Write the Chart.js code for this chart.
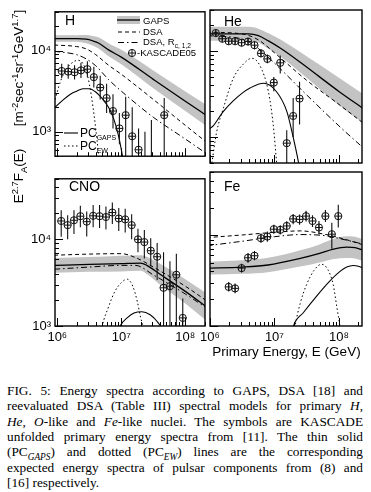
<!DOCTYPE html>
<html><head><meta charset="utf-8">
<script src="https://cdn.jsdelivr.net/npm/chart.js@4.4.1/dist/chart.umd.min.js"></script>
<style>
html,body{margin:0;padding:0;background:#fff}
body{width:371px;height:492px;position:relative;overflow:hidden;font-family:"Liberation Sans","DejaVu Sans",Arial,sans-serif;color:#000}
canvas{position:absolute}
.t{position:absolute;white-space:nowrap;line-height:1}
.lg{font-size:9.5px}
.pl{font-size:14px}
.rot{position:absolute;white-space:nowrap;font-size:13.5px;line-height:1;transform:translate(-50%,-50%) rotate(-90deg)}
sup,sub{font-size:70%;line-height:0}
.cap{position:absolute;left:7px;top:383px;width:356px;font-family:"Liberation Serif","DejaVu Serif",serif;font-size:13.3px;line-height:15.35px}
.cap div{text-align:justify;text-align-last:justify}
.cap div.last{text-align:left;text-align-last:left}
</style>
</head><body>
<canvas id="cH" width="210" height="168" style="left:0;top:0"></canvas>
<canvas id="cHe" width="182" height="168" style="left:189px;top:0"></canvas>
<canvas id="cCNO" width="210" height="193" style="left:0;top:167px"></canvas>
<canvas id="cFe" width="182" height="193" style="left:189px;top:167px"></canvas>

<div class="t pl" style="left:65px;top:13px">H</div>
<div class="t pl" style="left:224px;top:14px">He</div>
<div class="t pl" style="left:69px;top:179px">CNO</div>
<div class="t pl" style="left:224px;top:179px">Fe</div>

<div class="t lg" style="left:143px;top:15.5px">GAPS</div>
<div class="t lg" style="left:143px;top:27px">DSA</div>
<div class="t lg" style="left:143px;top:37px">DSA, R<sub>c, 1,2</sub></div>
<div class="t lg" style="left:137px;top:48px">-KASCADE05</div>
<div class="t" style="left:80px;top:127px;font-size:12px">PC<sub style="font-size:7px">GAPS</sub></div>
<div class="t" style="left:80px;top:140px;font-size:12px">PC<sub style="font-size:7px">EW</sub></div>

<div class="rot" style="left:19px;top:68px">[m<sup>-2</sup>sec<sup>-1</sup>sr<sup>-1</sup>GeV<sup>1.7</sup>]</div>
<div class="rot" style="left:19px;top:176px">E<sup>2.7</sup>F<sub>A</sub>(E)</div>
<div class="t" style="left:210px;top:345px;width:153px;text-align:center;font-size:13.5px">Primary Energy, E (GeV)</div>

<div class="cap">
<div>FIG. 5: Energy spectra according to GAPS, DSA [18] and</div>
<div>reevaluated DSA (Table III) spectral models for primary <i>H</i>,</div>
<div><i>He</i>, <i>O</i>-like and <i>Fe</i>-like nuclei. The symbols are KASCADE</div>
<div>unfolded primary energy spectra from [11]. The thin solid</div>
<div>(PC<sub><i>GAPS</i></sub>) and dotted (PC<sub><i>EW</i></sub>) lines are the corresponding</div>
<div>expected energy spectra of pulsar components from (8) and</div>
<div class="last">[16] respectively.</div>
</div>

<script>
// ---------- H ----------
const H_gapsE  = [8.91e5, 2.0e6, 2.82e6, 3.55e6, 4.47e6, 6.31e6, 1e7, 3.16e7, 1e8, 2.24e8];
const H_gapsV  = [14000, 14000, 13800, 13200, 12300, 10200, 8300, 4420, 2370, 1550];
const H_bandHi = [15400, 15400, 15500, 15100, 14500, 12300, 10200, 5690, 3130, 2090];
const H_bandLo = [12800, 12800, 12300, 11500, 10500, 8500, 6760, 3430, 1800, 1150];
const H_dsaE   = [8.91e5, 2.0e6, 2.82e6, 3.98e6, 6.31e6, 1e7, 3.16e7, 1e8, 2.24e8];
const H_dsaV   = [11700, 11200, 10500, 8900, 6600, 5100, 2500, 1200, 724];
const H_dsaRcV = [9800, 8900, 7900, 6500, 4400, 3160, 1510, 813, 525];
const H_pcgE   = [8.9e5, 1.26e6, 1.58e6, 2.0e6, 2.51e6, 3.16e6, 3.98e6, 5.01e6, 6.31e6, 7.59e6, 8.91e6, 1e7, 1.12e7];
const H_pcgV   = [1950, 2510, 2880, 3160, 3390, 3390, 3090, 2570, 2000, 1450, 933, 603, 355];
const H_pcewE  = [8.9e5, 1.12e6, 1.41e6, 1.78e6, 2.09e6, 2.51e6, 2.95e6, 3.39e6, 3.8e6, 4.17e6, 4.57e6];
const H_pcewV  = [2240, 4170, 6030, 7240, 7590, 6920, 5010, 2820, 1480, 794, 398];
const H_kE  = [1.17e6, 1.48e6, 1.86e6, 2.34e6, 2.95e6, 3.72e6, 4.68e6, 5.89e6, 7.41e6, 9.33e6, 1.17e7, 1.48e7, 1.86e7, 2.34e7, 2.95e7, 4.68e7];
const H_kV  = [5600, 5500, 5400, 5700, 5900, 4700, 3500, 2600, 1800, 1100, 1600, 880, 600, 300, 350, 1600];
const H_kLo = [4600, 4500, 4400, 4600, 4700, 3500, 2500, 1700, 1100, 700, 300, 200, 150, 100, 100, 300];
const H_kHi = [6900, 6800, 6600, 7100, 7400, 6300, 4900, 3900, 2900, 1700, 2700, 2000, 1100, 1000, 1400, 2600];

// ---------- He ----------
const He_gapsE  = [8.91e5, 3.98e6, 5.62e6, 7.94e6, 1.26e7, 2.51e7, 5.01e7, 1e8, 2.51e8];
const He_gapsV  = [15800, 15800, 15100, 13200, 10700, 7410, 5010, 3390, 2090];
const He_bandHi = [19100, 19100, 18200, 16200, 13500, 9770, 6920, 4900, 3090];
const He_bandLo = [13200, 13200, 12600, 10700, 8510, 5620, 3630, 2340, 1410];
const He_dsaE   = [8.91e5, 3.16e6, 5.62e6, 1e7, 3.16e7, 1e8, 2.51e8];
const He_dsaV   = [16600, 15800, 13500, 9550, 4570, 2400, 1410];
const He_dsaRcV = [15100, 13800, 10700, 7240, 3090, 1350, 724];
const He_pcgE   = [1e6, 1.12e6, 1.58e6, 2.29e6, 3.16e6, 4.17e6, 6.76e6, 1.07e7, 1.55e7, 1.95e7, 2.34e7, 2.63e7];
const He_pcgV   = [1260, 1350, 1950, 2630, 3240, 3720, 4220, 3390, 2000, 1000, 525, 316];
const He_pcewE  = [1.07e6, 1.26e6, 1.62e6, 2.29e6, 3.31e6, 4.42e6, 5.96e6, 8.04e6, 9.55e6, 1.07e7, 1.15e7];
const He_pcewV  = [501, 1120, 2190, 4790, 7080, 8240, 6760, 3390, 1410, 550, 316];
const He_kE  = [1.23e6, 1.55e6, 1.95e6, 2.45e6, 3.09e6, 3.89e6, 4.9e6, 6.17e6, 7.76e6, 9.77e6, 1.23e7, 1.55e7, 1.95e7, 2.45e7];
const He_kV  = [16200, 13900, 13000, 13000, 12500, 12900, 11700, 9400, 8100, 4300, 7300, 850, 1760, 2800];
const He_kLo = [15000, 12800, 12000, 12000, 11400, 11700, 10500, 8500, 7200, 3400, 5500, 300, 1000, 1400];
const He_kHi = [17500, 15200, 14200, 14200, 13700, 14200, 13000, 10400, 9100, 5000, 8900, 1200, 2850, 4400];

// ---------- CNO ----------
const CNO_gapsE  = [8.91e5, 3.16e6, 1e7, 2.0e7, 2.51e7, 3.98e7, 1e8, 2.24e8];
const CNO_gapsV  = [5010, 5130, 5250, 5330, 5010, 3980, 2510, 1620];
const CNO_bandHi = [6100, 6240, 6460, 6560, 6310, 5250, 3470, 2340];
const CNO_bandLo = [4120, 4220, 4270, 4340, 3980, 3020, 1820, 1120];
const CNO_dsaE   = [8.91e5, 3.16e6, 1e7, 1.66e7, 3.16e7, 1e8, 2.24e8];
const CNO_dsaV   = [6560, 6760, 6840, 6170, 4790, 2880, 1910];
const CNO_dsaRcV = [4520, 4790, 5010, 5010, 3890, 2340, 1580];
const CNO_pcgE   = [8.51e6, 9.55e6, 1.26e7, 1.58e7, 2.09e7, 2.82e7, 3.55e7, 4.17e7, 4.68e7];
const CNO_pcgV   = [794, 1000, 1260, 1410, 1460, 1350, 1150, 977, 794];
const CNO_pcewE  = [4.57e6, 5.01e6, 6.31e6, 7.94e6, 1e7, 1.23e7, 1.51e7, 1.78e7, 2.0e7, 2.19e7, 2.34e7];
const CNO_pcewV  = [631, 977, 1660, 2510, 3160, 3470, 2880, 1910, 1260, 977, 708];
const CNO_kE  = [1.15e6, 1.45e6, 1.82e6, 2.29e6, 2.88e6, 3.63e6, 4.57e6, 5.75e6, 7.24e6, 9.12e6, 1.15e7, 1.45e7, 1.82e7, 2.29e7, 2.88e7, 3.63e7, 4.57e7, 5.75e7, 7.24e7, 9.12e7];
const CNO_kV  = [16300, 14600, 16600, 18500, 16000, 18700, 18500, 18100, 20400, 17400, 17000, 14600, 10000, 9300, 7400, 6300, 2760, 2880, 3900, 1240];
const CNO_kLo = [10700, 10000, 11500, 13800, 10800, 13800, 13500, 13000, 15000, 12500, 12000, 10000, 7100, 6000, 4900, 3400, 500, 500, 1000, 500];
const CNO_kHi = [21700, 19000, 21700, 24500, 21000, 25000, 25000, 24000, 26700, 23000, 22500, 19500, 13300, 12800, 10300, 9100, 7100, 5600, 6800, 2070];

// ---------- Fe ----------
const Fe_gapsE  = [8.91e5, 3.16e6, 7.94e6, 2.51e7, 5.01e7, 7.94e7, 1.32e8, 1.78e8, 2.51e8];
const Fe_gapsV  = [4350, 4470, 4710, 5560, 6310, 7010, 7430, 7330, 6760];
const Fe_bandHi = [5110, 5310, 5660, 6840, 7940, 9040, 9790, 9660, 8910];
const Fe_bandLo = [3700, 3760, 3920, 4520, 5010, 5450, 5640, 5560, 5130];
const Fe_dsaE   = [8.91e5, 3.16e6, 1e7, 2.51e7, 6.31e7, 1.26e8, 2.51e8];
const Fe_dsaV   = [9440, 10100, 10800, 11200, 10200, 9020, 7760];
const Fe_dsaRcV = [7670, 8610, 9660, 10200, 9890, 8910, 7940];
const Fe_pcgE   = [1.78e7, 1.95e7, 2.82e7, 4.51e7, 7.08e7, 1.04e8, 1.32e8, 1.66e8, 2.0e8, 2.51e8];
const Fe_pcgV   = [708, 977, 1410, 2140, 3090, 4000, 4470, 4650, 4570, 4270];
const Fe_pcewE  = [1.91e7, 2.08e7, 2.51e7, 3.16e7, 4.17e7, 5.37e7, 6.76e7, 8.13e7, 9.33e7, 1.04e8, 1.10e8];
const Fe_pcewV  = [631, 977, 1780, 2880, 4170, 4800, 4170, 2880, 1580, 977, 708];
const Fe_kE  = [1.95e6, 2.45e6, 3.09e6, 3.89e6, 4.9e6, 6.17e6, 7.76e6, 9.77e6, 1.23e7, 1.55e7, 1.95e7, 2.45e7, 3.09e7, 3.89e7, 4.9e7, 6.17e7, 7.76e7, 9.77e7];
const Fe_kV  = [2700, 2600, 4350, 5660, 5960, 9300, 9700, 11700, 11500, 12700, 15200, 15000, 16300, 14400, 12200, 16300, 10300, 16300];
const Fe_kLo = [2400, 2300, 3900, 5000, 5300, 8300, 8500, 10400, 10200, 11200, 13300, 13100, 14200, 12400, 10300, 14000, 7100, 12200];
const Fe_kHi = [3050, 2950, 4850, 6400, 6700, 10500, 11000, 13100, 12900, 14300, 17200, 17000, 18700, 16700, 14400, 19000, 13800, 21700];

// ---------- axes ----------
const X_LEFT  = [9.2e5, 2.03e8];
const X_RIGHT = [1.0e6, 2.28e8];
const Y_TOP   = [500, 3.0e4];
const Y_BOT   = [1000, 5.0e4];
const SUP = {3:'\u00B3', 4:'\u2074', 6:'\u2076', 7:'\u2077', 8:'\u2078'};

const FONT = '"Liberation Sans","DejaVu Sans",Arial,sans-serif';
const BAND = '#c3c3c3';

function powLabel(v){
  const l = Math.log10(v), r = Math.round(l);
  return Math.abs(l - r) < 1e-6 && SUP[r] ? '10' + SUP[r] : '';
}

const framePlugin = {
  id: 'frame',
  afterDraw(chart){
    const {ctx, chartArea: a, scales: {x, y}} = chart;
    ctx.save();
    ctx.strokeStyle = '#000';
    ctx.lineWidth = 1;
    ctx.beginPath();
    for (let d = Math.floor(Math.log10(x.min)); d <= Math.ceil(Math.log10(x.max)); d++) {
      for (let m = 1; m <= 9; m++) {
        const v = m * Math.pow(10, d);
        if (v < x.min || v > x.max) continue;
        const px = Math.round(x.getPixelForValue(v)) + 0.5;
        const L = m === 1 ? 8 : 4;
        ctx.moveTo(px, a.bottom); ctx.lineTo(px, a.bottom - L);
      }
    }
    for (let d = Math.floor(Math.log10(y.min)); d <= Math.ceil(Math.log10(y.max)); d++) {
      for (let m = 1; m <= 9; m++) {
        const v = m * Math.pow(10, d);
        if (v < y.min || v > y.max) continue;
        const py = Math.round(y.getPixelForValue(v)) + 0.5;
        const L = m === 1 ? 8 : 4;
        ctx.moveTo(a.left, py); ctx.lineTo(a.left + L, py);
      }
    }
    ctx.stroke();
    ctx.lineWidth = 1.4;
    ctx.strokeRect(a.left, a.top, a.right - a.left, a.bottom - a.top);
    ctx.restore();
  }
};

const legendPlugin = {
  id: 'legendH',
  afterDraw(chart){
    const ctx = chart.ctx;
    ctx.save();
    ctx.fillStyle = BAND;
    ctx.fillRect(117, 16, 23, 8);
    ctx.strokeStyle = '#000';
    const seg = (x0, x1, yy, dash, w) => {
      ctx.beginPath(); ctx.setLineDash(dash); ctx.lineWidth = w;
      ctx.moveTo(x0, yy); ctx.lineTo(x1, yy); ctx.stroke();
    };
    seg(117, 140, 20, [], 1.3);
    seg(118, 140, 32, [4, 3], 1);
    seg(118, 140, 42.5, [6, 3, 1.5, 3], 1);
    seg(64, 78, 133, [], 1.1);
    seg(64, 78, 146, [1.5, 2.5], 1);
    ctx.setLineDash([]);
    ctx.lineWidth = 1;
    ctx.strokeStyle = '#111';
    ctx.beginPath(); ctx.arc(132, 53, 3.6, 0, Math.PI * 2); ctx.stroke();
    ctx.beginPath(); ctx.moveTo(128.4, 53); ctx.lineTo(135.6, 53); ctx.moveTo(132, 49.4); ctx.lineTo(132, 56.6); ctx.stroke();
    ctx.restore();
  }
};

function makePanel(id, p){
  const xy = (E, V) => E.map((e, i) => ({x: e, y: V[i]}));
  const err = [];
  p.kE.forEach((e, i) => { err.push({x: e, y: p.kLo[i]}, {x: e, y: p.kHi[i]}, {x: e, y: null}); });
  const line = (data, extra) => Object.assign({
    data, pointRadius: 0, borderColor: '#000', borderWidth: 1, fill: false,
    cubicInterpolationMode: 'monotone', order: 5
  }, extra);
  const datasets = [
    line(xy(p.gE, p.bHi), {borderWidth: 0, borderColor: 'rgba(0,0,0,0)', order: 10}),
    line(xy(p.gE, p.bLo), {borderWidth: 0, borderColor: 'rgba(0,0,0,0)', fill: '-1', backgroundColor: BAND, order: 9}),
    line(xy(p.gE, p.gV), {borderWidth: 1.3}),
    line(xy(p.dE, p.dV), {borderDash: [4, 3]}),
    line(xy(p.dE, p.rV), {borderDash: [6, 3, 1.5, 3]}),
    line(xy(p.pgE, p.pgV), {borderWidth: 1.1}),
    line(xy(p.peE, p.peV), {borderDash: [1.5, 2.5]}),
    {data: err, showLine: true, spanGaps: false, pointRadius: 0, borderColor: '#111', borderWidth: 1.1, order: 2},
    {data: xy(p.kE, p.kV), showLine: false, pointStyle: 'circle', pointRadius: 3.6,
     pointBorderColor: '#111', pointBackgroundColor: 'rgba(255,255,255,0)', pointBorderWidth: 1, order: 1},
    {data: xy(p.kE, p.kV), showLine: false, pointStyle: 'cross', pointRadius: 3.6,
     pointBorderColor: '#111', pointBorderWidth: 1, order: 0}
  ];
  const tickFont = {family: FONT, size: 13};
  return new Chart(document.getElementById(id), {
    type: 'line',
    data: {datasets},
    plugins: p.legend ? [framePlugin, legendPlugin] : [framePlugin],
    options: {
      responsive: false, animation: false, devicePixelRatio: 1, events: [],
      layout: {padding: p.pad},
      plugins: {legend: {display: false}, tooltip: {enabled: false}},
      scales: {
        x: {type: 'logarithmic', min: p.xr[0], max: p.xr[1], position: 'bottom',
            grid: {display: false, drawTicks: false}, border: {display: false},
            ticks: {display: p.xlab, autoSkip: false, maxRotation: 0, minRotation: 0, padding: 4,
                    color: '#000', font: tickFont, callback: powLabel},
            afterFit: s => { s.height = p.xh; }},
        y: {type: 'logarithmic', min: p.yr[0], max: p.yr[1], position: 'left',
            grid: {display: false, drawTicks: false}, border: {display: false},
            ticks: {display: p.ylab, autoSkip: false, padding: 4, color: '#000', font: tickFont, callback: powLabel},
            afterFit: s => { s.width = p.yw; }}
      }
    }
  });
}

makePanel('cH', {gE: H_gapsE, gV: H_gapsV, bHi: H_bandHi, bLo: H_bandLo, dE: H_dsaE, dV: H_dsaV, rV: H_dsaRcV,
  pgE: H_pcgE, pgV: H_pcgV, peE: H_pcewE, peV: H_pcewV, kE: H_kE, kV: H_kV, kLo: H_kLo, kHi: H_kHi,
  xr: X_LEFT, yr: Y_TOP, xlab: false, ylab: true, xh: 1, yw: 55, pad: {top: 10, right: 2, left: 0, bottom: 0}, legend: true});
makePanel('cHe', {gE: He_gapsE, gV: He_gapsV, bHi: He_bandHi, bLo: He_bandLo, dE: He_dsaE, dV: He_dsaV, rV: He_dsaRcV,
  pgE: He_pcgE, pgV: He_pcgV, peE: He_pcewE, peV: He_pcewV, kE: He_kE, kV: He_kV, kLo: He_kLo, kHi: He_kHi,
  xr: X_RIGHT, yr: Y_TOP, xlab: false, ylab: false, xh: 1, yw: 21, pad: {top: 10, right: 9, left: 0, bottom: 0}});
makePanel('cCNO', {gE: CNO_gapsE, gV: CNO_gapsV, bHi: CNO_bandHi, bLo: CNO_bandLo, dE: CNO_dsaE, dV: CNO_dsaV, rV: CNO_dsaRcV,
  pgE: CNO_pcgE, pgV: CNO_pcgV, peE: CNO_pcewE, peV: CNO_pcewV, kE: CNO_kE, kV: CNO_kV, kLo: CNO_kLo, kHi: CNO_kHi,
  xr: X_LEFT, yr: Y_BOT, xlab: true, ylab: true, xh: 34, yw: 55, pad: {top: 1, right: 2, left: 0, bottom: 0}});
makePanel('cFe', {gE: Fe_gapsE, gV: Fe_gapsV, bHi: Fe_bandHi, bLo: Fe_bandLo, dE: Fe_dsaE, dV: Fe_dsaV, rV: Fe_dsaRcV,
  pgE: Fe_pcgE, pgV: Fe_pcgV, peE: Fe_pcewE, peV: Fe_pcewV, kE: Fe_kE, kV: Fe_kV, kLo: Fe_kLo, kHi: Fe_kHi,
  xr: X_RIGHT, yr: Y_BOT, xlab: true, ylab: false, xh: 34, yw: 21, pad: {top: 1, right: 9, left: 0, bottom: 0}});
</script>
</body></html>
